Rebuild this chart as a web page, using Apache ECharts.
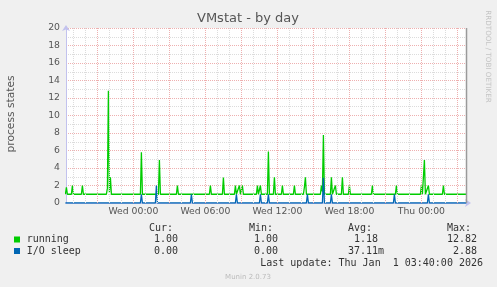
<!DOCTYPE html>
<html><head><meta charset="utf-8">
<script src="https://cdn.jsdelivr.net/npm/echarts@6/dist/echarts.min.js"></script>
<style>html,body{margin:0;padding:0;background:#f0f0f0;}#c{width:497px;height:287px;}</style>
</head><body><div id="c"></div>
<script>
// ---- data ----
const runningPoints = [
  ['2025-12-30 18:20', 1], ['2025-12-30 18:25', 1.8], ['2025-12-30 18:30', 1],
  ['2025-12-30 18:50', 1], ['2025-12-30 18:55', 2], ['2025-12-30 19:00', 1],
  ['2025-12-30 19:40', 1], ['2025-12-30 19:45', 2], ['2025-12-30 19:50', 1],
  ['2025-12-30 21:45', 1], ['2025-12-30 21:50', 1.7], ['2025-12-30 21:55', 12.82],
  ['2025-12-30 22:00', 1.2], ['2025-12-30 22:05', 2.94], ['2025-12-30 22:10', 1],
  ['2025-12-31 00:35', 1], ['2025-12-31 00:40', 5.8], ['2025-12-31 00:45', 1],
  ['2025-12-31 02:05', 1], ['2025-12-31 02:10', 4.9], ['2025-12-31 02:15', 1],
  ['2025-12-31 03:35', 1], ['2025-12-31 03:40', 2], ['2025-12-31 03:45', 1],
  ['2025-12-31 06:20', 1], ['2025-12-31 06:25', 2], ['2025-12-31 06:30', 1],
  ['2025-12-31 07:25', 1], ['2025-12-31 07:30', 2.9], ['2025-12-31 07:35', 1],
  ['2025-12-31 08:25', 1], ['2025-12-31 08:30', 2], ['2025-12-31 08:35', 1],
  ['2025-12-31 08:45', 1], ['2025-12-31 08:50', 2], ['2025-12-31 08:55', 1],
  ['2025-12-31 09:00', 1], ['2025-12-31 09:05', 2], ['2025-12-31 09:10', 1],
  ['2025-12-31 10:15', 1], ['2025-12-31 10:20', 2], ['2025-12-31 10:25', 1],
  ['2025-12-31 10:30', 1], ['2025-12-31 10:35', 2], ['2025-12-31 10:40', 1],
  ['2025-12-31 11:10', 1], ['2025-12-31 11:15', 5.87], ['2025-12-31 11:20', 1],
  ['2025-12-31 11:40', 1], ['2025-12-31 11:45', 2.94], ['2025-12-31 11:50', 1],
  ['2025-12-31 12:20', 1], ['2025-12-31 12:25', 2], ['2025-12-31 12:30', 1],
  ['2025-12-31 13:20', 1], ['2025-12-31 13:25', 2], ['2025-12-31 13:30', 1],
  ['2025-12-31 14:10', 1], ['2025-12-31 14:15', 1.8], ['2025-12-31 14:20', 2.94], ['2025-12-31 14:25', 1],
  ['2025-12-31 15:35', 1], ['2025-12-31 15:40', 2], ['2025-12-31 15:45', 1.3],
  ['2025-12-31 15:50', 7.77], ['2025-12-31 15:55', 1],
  ['2025-12-31 16:25', 1], ['2025-12-31 16:30', 2.94], ['2025-12-31 16:35', 1],
  ['2025-12-31 16:45', 1], ['2025-12-31 16:50', 2], ['2025-12-31 16:55', 1],
  ['2025-12-31 17:20', 1], ['2025-12-31 17:25', 2.94], ['2025-12-31 17:30', 1],
  ['2025-12-31 17:55', 1], ['2025-12-31 18:00', 2], ['2025-12-31 18:05', 1],
  ['2025-12-31 19:50', 1], ['2025-12-31 19:55', 2], ['2025-12-31 20:00', 1],
  ['2025-12-31 21:50', 1], ['2025-12-31 21:55', 2], ['2025-12-31 22:00', 1],
  ['2025-12-31 23:55', 1], ['2026-01-01 00:00', 2], ['2026-01-01 00:05', 1],
  ['2026-01-01 00:10', 1], ['2026-01-01 00:15', 4.9], ['2026-01-01 00:20', 1],
  ['2026-01-01 00:30', 1], ['2026-01-01 00:35', 2], ['2026-01-01 00:40', 1],
  ['2026-01-01 01:45', 1], ['2026-01-01 01:50', 2], ['2026-01-01 01:55', 1],
  ['2026-01-01 03:45', 1]
];
const ioSleepPoints = [
  ['2025-12-30 18:20', 0],
  ['2025-12-31 00:35', 0], ['2025-12-31 00:40', 1], ['2025-12-31 00:45', 0],
  ['2025-12-31 01:50', 0], ['2025-12-31 01:55', 2], ['2025-12-31 02:00', 0],
  ['2025-12-31 04:45', 0], ['2025-12-31 04:50', 1], ['2025-12-31 04:55', 0],
  ['2025-12-31 08:30', 0], ['2025-12-31 08:35', 1], ['2025-12-31 08:40', 0],
  ['2025-12-31 10:30', 0], ['2025-12-31 10:35', 1], ['2025-12-31 10:40', 0],
  ['2025-12-31 11:10', 0], ['2025-12-31 11:15', 1], ['2025-12-31 11:20', 0],
  ['2025-12-31 14:25', 0], ['2025-12-31 14:30', 1], ['2025-12-31 14:35', 0],
  ['2025-12-31 15:45', 0], ['2025-12-31 15:50', 2.88], ['2025-12-31 15:55', 0],
  ['2025-12-31 16:25', 0], ['2025-12-31 16:30', 1], ['2025-12-31 16:35', 0],
  ['2025-12-31 21:40', 0], ['2025-12-31 21:45', 1], ['2025-12-31 21:50', 0],
  ['2026-01-01 00:30', 0], ['2026-01-01 00:35', 1], ['2026-01-01 00:40', 0],
  ['2026-01-01 03:45', 0]
];
const xLabelTimes = ['2025-12-31 00:00', '2025-12-31 06:00', '2025-12-31 12:00', '2025-12-31 18:00', '2026-01-01 00:00'];
const xLabelTexts = ['Wed 00:00', 'Wed 06:00', 'Wed 12:00', 'Wed 18:00', 'Thu 00:00'];
const xRange = ['2025-12-30 18:23', '2026-01-01 03:43'];
const yMax = 20, yStep = 2;
const seriesNames = ['running', 'I/O sleep'];
const seriesColors = ['#00cc00', '#0066b3'];
const curValues = ['1.00', '0.00'];
const minValues = ['1.00', '0.00'];
const avgValues = ['1.18', '37.11m'];
const maxValues = ['12.82', '2.88'];
const statHeaders = ['Cur:', 'Min:', 'Avg:', 'Max:'];
const titleText = 'VMstat - by day';
const yName = 'process states';
const lastUpdate = 'Last update: Thu Jan  1 03:40:00 2026';
const footer = 'Munin 2.0.73';
const sideText = 'RRDTOOL / TOBI OETIKER';

// ---- helpers ----
function ts(s) {
  const [d, t] = s.split(' ');
  const [Y, M, D] = d.split('-').map(Number);
  const [h, mi] = t.split(':').map(Number);
  return new Date(Y, M - 1, D, h, mi).getTime();
}
const toData = pts => pts.map(p => [ts(p[0]), p[1]]);
const xMin = ts(xRange[0]), xMax = ts(xRange[1]);
const labelTs = xLabelTimes.map(ts);

// hourly grid positions (axis scale, not data)
const HOUR = 3600 * 1000;
const firstHour = Math.ceil(xMin / HOUR) * HOUR;
const minorLines = [], majorLines = [];
for (let t = firstHour; t < xMax; t += HOUR) {
  if (new Date(t).getHours() % 3 === 0) majorLines.push({ xAxis: t });
  else minorLines.push({ xAxis: t });
}

const chart = echarts.init(document.getElementById('c'), null, { renderer: 'canvas' });
const FONT = 'DejaVu Sans';
const MONO = 'DejaVu Sans Mono';
const lavender = '#c2c2ee';
const minorColor = '#dcdcdc';
const majorColor = '#eeb0b0';

const graphics = [
  { type: 'text', x: 248, y: 19, style: { text: titleText, font: '13px "' + FONT + '"', fill: '#555', align: 'center', verticalAlign: 'middle' } },
  { type: 'text', x: 11.7, y: 114, rotation: Math.PI / 2, style: { text: yName, font: '10.7px "' + FONT + '"', fill: '#555', align: 'center', verticalAlign: 'middle' } },
  { type: 'text', x: 488.3, y: 56.5, rotation: -Math.PI / 2, style: { text: sideText, font: '7.2px "' + FONT + '"', fill: '#c4c4c4', align: 'center', verticalAlign: 'middle' } },
  { type: 'line', shape: { x1: 466.5, y1: 28, x2: 466.5, y2: 203 }, style: { stroke: '#9a9a9a', lineWidth: 1.5 }, z: 10 },
  { type: 'text', x: 248, y: 277, style: { text: footer, font: '7px "' + FONT + '"', fill: '#bbb', align: 'center', verticalAlign: 'middle' } },
  { type: 'text', x: 483, y: 263.5, style: { text: lastUpdate, font: '10px "' + MONO + '"', fill: '#333', align: 'right', verticalAlign: 'middle' } }
];
const headerX = [149, 249, 348, 447];
statHeaders.forEach((h, i) => graphics.push({ type: 'text', x: headerX[i], y: 228, style: { text: h, font: '10px "' + MONO + '"', fill: '#333', align: 'left', verticalAlign: 'middle' } }));
const rowY = [239.5, 251];
const colRight = [178, 278, 378, 477];
seriesNames.forEach((name, r) => {
  graphics.push({ type: 'rect', shape: { x: 14, y: rowY[r] - 3, width: 6, height: 6 }, style: { fill: seriesColors[r] } });
  graphics.push({ type: 'text', x: 26.7, y: rowY[r], style: { text: name, font: '10px "' + MONO + '"', fill: '#333', align: 'left', verticalAlign: 'middle' } });
  [curValues[r], minValues[r], avgValues[r], maxValues[r]].forEach((v, c) => {
    const right = /[a-z]$/i.test(v) ? colRight[c] + 6 : colRight[c];
    graphics.push({ type: 'text', x: right, y: rowY[r], style: { text: v, font: '10px "' + MONO + '"', fill: '#333', align: 'right', verticalAlign: 'middle' } });
  });
});

chart.setOption({
  animation: false,
  backgroundColor: '#f0f0f0',
  grid: { left: 66, top: 28, width: 400, height: 175, show: true, backgroundColor: '#ffffff', borderWidth: 0 },
  xAxis: {
    type: 'value', min: xMin, max: xMax, scale: true,
    axisLine: { show: true, lineStyle: { color: lavender, width: 1 }, symbol: ['none', 'arrow'], symbolSize: [6, 6], symbolOffset: [0, 5] },
    axisTick: { show: false },
    splitLine: { show: false },
    axisLabel: {
      customValues: labelTs,
      formatter: v => { const i = labelTs.indexOf(v); return i >= 0 ? xLabelTexts[i] : ''; },
      fontFamily: FONT, fontSize: 9.3, color: '#555', margin: 4, hideOverlap: false
    }
  },
  yAxis: {
    type: 'value', min: 0, max: yMax, interval: yStep,
    axisLine: { show: true, lineStyle: { color: lavender, width: 1 }, symbol: ['none', 'arrow'], symbolSize: [6, 6], symbolOffset: [0, 3] },
    axisTick: { show: false },
    axisLabel: { fontFamily: FONT, fontSize: 9.3, color: '#555', margin: 6 },
    splitLine: { show: true, lineStyle: { color: majorColor, type: [1, 1], width: 1 } },
    minorTick: { show: false, splitNumber: 2 },
    minorSplitLine: { show: true, lineStyle: { color: minorColor, type: [1, 1], width: 1 } }
  },
  series: [
    {
      type: 'line', data: [], z: 1, silent: true,
      markLine: { silent: true, symbol: ['none', 'none'], label: { show: false }, animation: false,
        lineStyle: { color: minorColor, type: [1, 1], width: 1 }, data: minorLines }
    },
    {
      type: 'line', data: [], z: 1, silent: true,
      markLine: { silent: true, symbol: ['none', 'none'], label: { show: false }, animation: false,
        lineStyle: { color: majorColor, type: [1, 1], width: 1 }, data: majorLines }
    },
    { name: seriesNames[0], type: 'line', data: toData(runningPoints), showSymbol: false, z: 3,
      lineStyle: { color: seriesColors[0], width: 1.3 }, itemStyle: { color: seriesColors[0] } },
    { name: seriesNames[1], type: 'line', data: toData(ioSleepPoints), showSymbol: false, z: 4,
      lineStyle: { color: seriesColors[1], width: 1.3 }, itemStyle: { color: seriesColors[1] } }
  ],
  graphic: graphics
});
</script></body></html>
